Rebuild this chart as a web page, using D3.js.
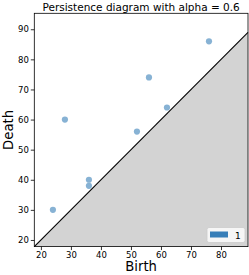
<!DOCTYPE html>
<html>
<head>
<meta charset="utf-8">
<script src="https://cdn.jsdelivr.net/npm/d3@7"></script>
<style>
  body { margin: 0; background: #fff; }
  svg { display: block; font-family: "DejaVu Sans", sans-serif; }
</style>
</head>
<body>
<svg id="chart" width="249" height="275"></svg>
<script>
// persistence pairs (dimension 1)
var births = [24, 28, 36, 36, 52, 56, 62, 76];
var deaths = [30, 60, 40, 38, 56, 74, 64, 86];
var xTicks = [20, 30, 40, 50, 60, 70, 80];
var yTicks = [20, 30, 40, 50, 60, 70, 80, 90];
var legendLabels = ['1'];

var svg = d3.select('#chart');
var margin = {left: 34.3, right: 1, top: 13.3, bottom: 28.4};
var width = 249, height = 275;

var x = d3.scaleLinear().domain([17.8, 89]).range([margin.left, width - margin.right]);
var y = d3.scaleLinear().domain([17.8, 95.3]).range([height - margin.bottom, margin.top]);

// grey region under the diagonal
var x0 = x.domain()[0], x1 = x.domain()[1];
svg.append('path')
  .attr('d', 'M' + x(x0) + ',' + y(x0) + 'L' + x(x1) + ',' + y(x1) + 'L' + x(x1) + ',' + y(y.domain()[0]) + 'Z')
  .attr('fill', '#d3d3d3');
svg.append('line')
  .attr('x1', x(x0)).attr('y1', y(x0))
  .attr('x2', x(x1)).attr('y2', y(x1))
  .attr('stroke', '#000').attr('stroke-width', 1.1);

// points
var pairs = births.map(function(b, i) { return {birth: b, death: deaths[i]}; });
svg.selectAll('circle.pt')
  .data(pairs)
  .enter()
  .append('circle')
  .attr('class', 'pt')
  .attr('cx', function(d) { return x(d.birth); })
  .attr('cy', function(d) { return y(d.death); })
  .attr('r', 3.1)
  .attr('fill', '#377eb8')
  .attr('fill-opacity', 0.6);

// axes
var xAxis = svg.append('g')
  .attr('transform', 'translate(0,' + (height - margin.bottom) + ')')
  .call(d3.axisBottom(x).tickValues(xTicks).tickSize(3.5).tickPadding(2));
var yAxis = svg.append('g')
  .attr('transform', 'translate(' + margin.left + ',0)')
  .call(d3.axisLeft(y).tickValues(yTicks).tickSize(3.5).tickPadding(2));
[xAxis, yAxis].forEach(function(g) {
  g.select('.domain').remove();
  g.selectAll('text').attr('font-size', 8.5).attr('font-family', '"DejaVu Sans", sans-serif').attr('fill', '#000');
  g.selectAll('line').attr('stroke', '#000').attr('stroke-width', 0.8);
});

// frame
svg.append('rect')
  .attr('x', margin.left).attr('y', margin.top)
  .attr('width', width - margin.right - margin.left)
  .attr('height', height - margin.bottom - margin.top)
  .attr('fill', 'none').attr('stroke', '#000').attr('stroke-width', 0.8);

// legend
var legend = svg.append('g').attr('transform', 'translate(207,227.5)');
legend.append('rect')
  .attr('width', 38).attr('height', 15).attr('rx', 2)
  .attr('fill', '#fff').attr('fill-opacity', 0.8)
  .attr('stroke', '#ccc').attr('stroke-width', 0.8);
legendLabels.forEach(function(lbl, i) {
  legend.append('rect')
    .attr('x', 3).attr('y', 4 + i * 12).attr('width', 18).attr('height', 6)
    .attr('fill', '#377eb8');
  legend.append('text')
    .attr('x', 28).attr('y', 11 + i * 12)
    .attr('font-size', 9).attr('fill', '#000')
    .text(lbl);
});

// titles
svg.append('text')
  .attr('x', (margin.left + width - margin.right) / 2).attr('y', 10.5)
  .attr('text-anchor', 'middle').attr('font-size', 10.5)
  .text('Persistence diagram with alpha = 0.6');
svg.append('text')
  .attr('x', (margin.left + width - margin.right) / 2).attr('y', 271)
  .attr('text-anchor', 'middle').attr('font-size', 13.2)
  .text('Birth');
svg.append('text')
  .attr('transform', 'translate(13,' + (margin.top + height - margin.bottom) / 2 + ') rotate(-90)')
  .attr('text-anchor', 'middle').attr('font-size', 13.2)
  .text('Death');
</script>
</body>
</html>
